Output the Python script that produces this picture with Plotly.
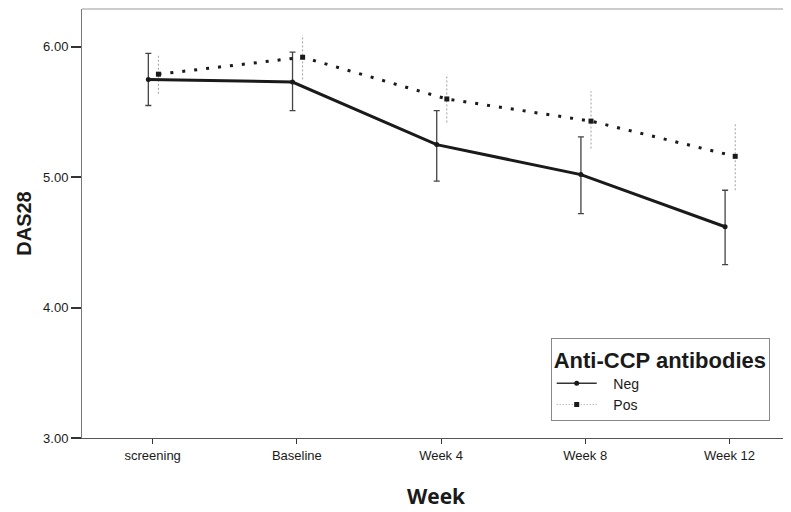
import numpy as np
import plotly.graph_objects as go

categories = ["screening", "Baseline", "Week 4", "Week 8", "Week 12"]
neg_mean = [5.75, 5.73, 5.25, 5.02, 4.62]
neg_hi = [5.95, 5.96, 5.51, 5.31, 4.90]
neg_lo = [5.55, 5.51, 4.97, 4.72, 4.33]
pos_mean = [5.79, 5.92, 5.60, 5.43, 5.16]
pos_hi = [5.94, 6.09, 5.79, 5.66, 5.42]
pos_lo = [5.64, 5.75, 5.42, 5.22, 4.90]
y_ticks = [3.0, 4.0, 5.0, 6.0]

idx = np.arange(len(categories))
neg_x = idx - 0.03
pos_x = idx + 0.04

fig = go.Figure()

# Pos error bars (dotted, light)
ex, ey = [], []
for x, lo, hi in zip(pos_x, pos_lo, pos_hi):
    ex += [x, x, None]
    ey += [lo, hi, None]
fig.add_trace(go.Scatter(x=ex, y=ey, mode="lines", line=dict(color="#a0a0a0", width=1, dash="2px,2px"),
                         showlegend=False, hoverinfo="skip"))

fig.add_trace(go.Scatter(
    x=neg_x, y=neg_mean, name="Neg", mode="lines+markers", showlegend=False,
    line=dict(color="#1a1a1a", width=3),
    marker=dict(color="#1a1a1a", size=5, symbol="circle"),
    error_y=dict(type="data", symmetric=False,
                 array=[h - m for h, m in zip(neg_hi, neg_mean)],
                 arrayminus=[m - l for m, l in zip(neg_mean, neg_lo)],
                 color="#444444", thickness=1.3, width=3),
))
fig.add_trace(go.Scatter(
    x=pos_x, y=pos_mean, name="Pos", mode="lines+markers", showlegend=False,
    line=dict(color="#1a1a1a", width=3, dash="3px,9px"),
    marker=dict(color="#1a1a1a", size=5, symbol="square"),
))

# legend samples (thin lines as in the original legend)
pad = "\u00a0" * 3
fig.add_trace(go.Scatter(x=[None], y=[None], name=pad + "Neg", mode="lines+markers",
                         line=dict(color="#333333", width=1.5),
                         marker=dict(color="#1a1a1a", size=5, symbol="circle")))
fig.add_trace(go.Scatter(x=[None], y=[None], name=pad + "Pos", mode="lines+markers",
                         line=dict(color="#999999", width=1, dash="1px,2px"),
                         marker=dict(color="#1a1a1a", size=5, symbol="square")))

fig.update_layout(
    width=783, height=504,
    margin=dict(l=74, r=1, t=1, b=74),
    paper_bgcolor="white", plot_bgcolor="white",
    font=dict(family="Liberation Sans, Arial, sans-serif", color="#1a1a1a", size=13),
    xaxis=dict(
        range=[-0.49, 4.42], tickmode="array", tickvals=list(idx), ticktext=categories,
        showgrid=False, zeroline=False, showline=True, linecolor="#555555", linewidth=1,
        ticks="outside", ticklen=5, tickcolor="#333333", mirror=False, automargin=False,
        title=dict(text="<b>Week</b>", font=dict(size=21, family="Open Sans, Liberation Sans, sans-serif"), standoff=27),
        tickfont=dict(size=13),
    ),
    yaxis=dict(
        range=[3.0, 6.29], tickmode="array", tickvals=y_ticks,
        ticktext=[f"{v:.2f}" for v in y_ticks],
        showgrid=False, zeroline=False, showline=True, linecolor="#777777", linewidth=1,
        ticks="outside", ticklen=10, tickcolor="#333333", tickwidth=2, automargin=False,
        title=dict(text="<b>DAS28</b>", font=dict(size=20), standoff=6),
        tickfont=dict(size=13),
    ),
    legend=dict(
        x=0.662, y=0.233, xanchor="left", yanchor="top",
        bordercolor="#888888", borderwidth=1, bgcolor="white",
        title=dict(text="<b>Anti-CCP antibodies</b>", font=dict(size=22), side="top"),
        font=dict(size=14), tracegroupgap=2, itemwidth=40,
    ),
    shapes=[dict(type="line", xref="paper", yref="paper", x0=0, x1=1, y0=1, y1=1,
                 line=dict(color="#999999", width=1))],
)

fig.write_html("out.html")
